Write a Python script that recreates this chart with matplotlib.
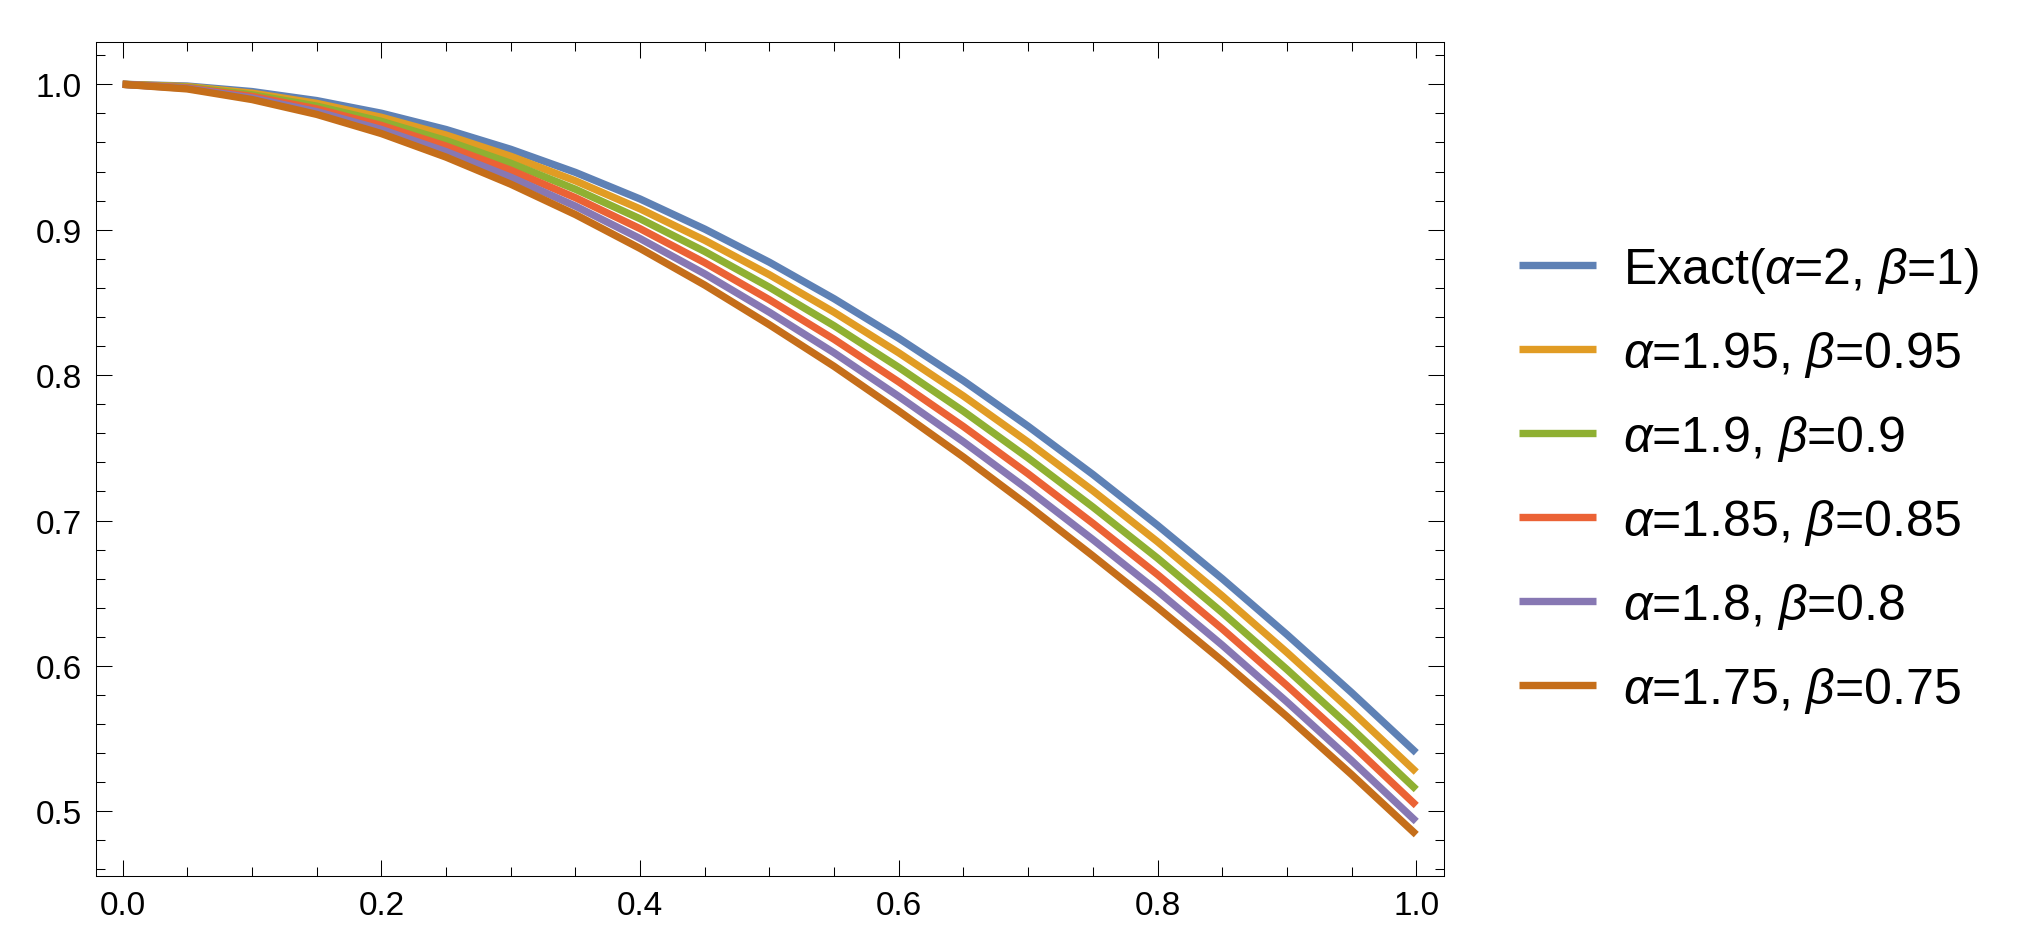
import numpy as np
import matplotlib
matplotlib.use("Agg")
import matplotlib.pyplot as plt
from matplotlib.ticker import MultipleLocator, FormatStrFormatter

plt.rcParams['font.family'] = ['Liberation Sans', 'DejaVu Sans']
plt.rcParams['mathtext.fontset'] = 'custom'
plt.rcParams['mathtext.rm'] = 'Liberation Sans'
plt.rcParams['mathtext.it'] = 'Liberation Sans:italic'

# values
t = [0.0, 0.05, 0.1, 0.15, 0.2, 0.25, 0.3, 0.35, 0.4, 0.45, 0.5,
     0.55, 0.6, 0.65, 0.7, 0.75, 0.8, 0.85, 0.9, 0.95, 1.0]

exact = [1.0000, 0.9988, 0.9950, 0.9888, 0.9801, 0.9689, 0.9553, 0.9394, 0.9211, 0.9004, 0.8776,
         0.8525, 0.8253, 0.7961, 0.7648, 0.7317, 0.6967, 0.6600, 0.6216, 0.5817, 0.5403]
a195 = [1.0000, 0.9984, 0.9939, 0.9869, 0.9773, 0.9651, 0.9505, 0.9336, 0.9143, 0.8927, 0.8690,
        0.8432, 0.8153, 0.7856, 0.7539, 0.7205, 0.6854, 0.6482, 0.6093, 0.5689, 0.5270]
a19 = [1.0000, 0.9980, 0.9928, 0.9850, 0.9745, 0.9613, 0.9457, 0.9278, 0.9075, 0.8850, 0.8604,
       0.8339, 0.8053, 0.7751, 0.7430, 0.7093, 0.6741, 0.6367, 0.5976, 0.5571, 0.5150]
a185 = [1.0000, 0.9976, 0.9917, 0.9831, 0.9717, 0.9575, 0.9409, 0.9220, 0.9007, 0.8773, 0.8518,
        0.8246, 0.7953, 0.7646, 0.7321, 0.6981, 0.6628, 0.6255, 0.5865, 0.5460, 0.5040]
a18 = [1.0000, 0.9972, 0.9906, 0.9812, 0.9689, 0.9537, 0.9361, 0.9162, 0.8939, 0.8696, 0.8432,
       0.8153, 0.7853, 0.7541, 0.7212, 0.6869, 0.6515, 0.6143, 0.5753, 0.5349, 0.4930]
a175 = [1.0000, 0.9968, 0.9895, 0.9793, 0.9661, 0.9499, 0.9313, 0.9104, 0.8871, 0.8619, 0.8346,
        0.8060, 0.7753, 0.7436, 0.7103, 0.6757, 0.6402, 0.6035, 0.5652, 0.5253, 0.4840]

labels = [r'Exact($\alpha$=2, $\beta$=1)',
          r'$\alpha$=1.95, $\beta$=0.95',
          r'$\alpha$=1.9, $\beta$=0.9',
          r'$\alpha$=1.85, $\beta$=0.85',
          r'$\alpha$=1.8, $\beta$=0.8',
          r'$\alpha$=1.75, $\beta$=0.75']
colors = ['#5E81B5', '#E19C24', '#8FB032', '#EB6235', '#8778B3', '#C56E1A']
series = [exact, a195, a19, a185, a18, a175]

fig = plt.figure(figsize=(20.22, 9.53), dpi=100)
ax = fig.add_axes([0.0473, 0.0794, 0.6670, 0.8752])

for y, c, lab in zip(series, colors, labels):
    ax.plot(t, y, color=c, lw=5.3, label=lab, solid_capstyle='butt')

ax.set_xlim(-0.0209, 1.0217)
ax.set_ylim(0.4553, 1.0289)
ax.xaxis.set_major_locator(MultipleLocator(0.2))
ax.xaxis.set_minor_locator(MultipleLocator(0.05))
ax.yaxis.set_major_locator(MultipleLocator(0.1))
ax.yaxis.set_minor_locator(MultipleLocator(0.02))
ax.xaxis.set_major_formatter(FormatStrFormatter('%.1f'))
ax.yaxis.set_major_formatter(FormatStrFormatter('%.1f'))
ax.tick_params(which='both', direction='in', top=True, right=True, width=0.75, labelsize=24, pad=10)
ax.tick_params(which='major', length=11.5)
ax.tick_params(which='minor', length=6.7)
for s in ax.spines.values():
    s.set_linewidth(0.75)

ax.legend(loc='center left', bbox_to_anchor=(1518.7 / 2022, 0.4954), bbox_transform=fig.transFigure,
          frameon=False, fontsize=36, handlelength=1.54, handletextpad=0.55,
          labelspacing=0.68, borderpad=0, borderaxespad=0)

fig.savefig('out.png', dpi=100)
